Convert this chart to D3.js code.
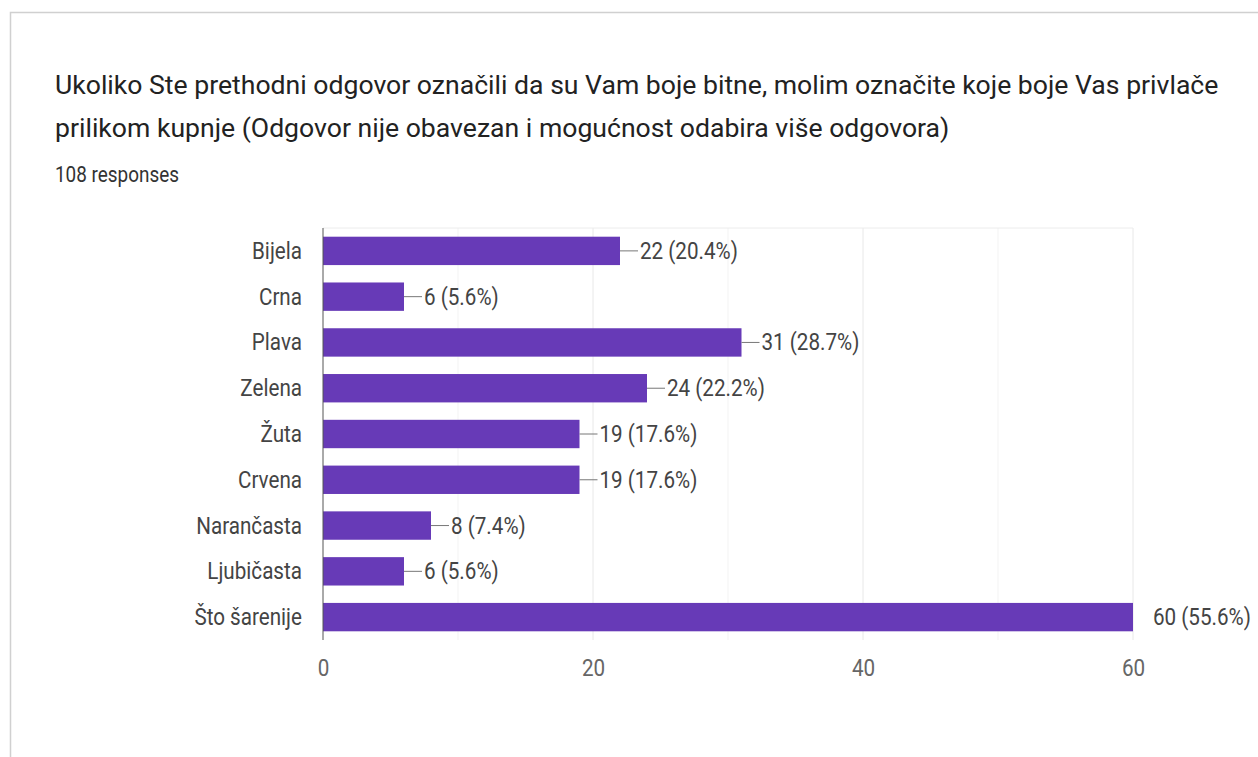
<!DOCTYPE html>
<html><head><meta charset="utf-8">
<script src="https://cdn.jsdelivr.net/npm/d3@7"></script>
<style>
body{margin:0;background:#fff;}
svg{display:block;font-family:Roboto, Arial, sans-serif;}
</style></head>
<body>
<svg id="c" width="1258" height="757"></svg>
<script>
const titleLines = ["Ukoliko Ste prethodni odgovor označili da su Vam boje bitne, molim označite koje boje Vas privlače",
  "prilikom kupnje (Odgovor nije obavezan i mogućnost odabira više odgovora)"];
const subtitle = "108 responses";
const categories = ["Bijela","Crna","Plava","Zelena","Žuta","Crvena","Narančasta","Ljubičasta","Što šarenije"];
const counts = [22,6,31,24,19,19,8,6,60];
const percents = ["20.4%","5.6%","28.7%","22.2%","17.6%","17.6%","7.4%","5.6%","55.6%"];
const majorTicks = [0,20,40,60];
const minorTicks = [10,30,50];

(function(){
const svg = d3.select("#c");
const SX = 0.86; // condensed look of the reference text
function ctext(g, x, y, str, size, anchor, fill, sx){
  return g.append("text")
    .attr("transform",`translate(${x},${y}) scale(${sx==null?SX:sx},1)`)
    .attr("text-anchor",anchor||"start").attr("font-size",size).attr("fill",fill||"#444").text(str);
}
svg.append("path").attr("d","M10.5,757 V12.5 H1258").attr("fill","none").attr("stroke","#d0d0d0").attr("stroke-width",1.5);

const tg = svg.append("g");
titleLines.forEach((t,i)=>ctext(tg,55,94+i*43,t,26.6,"start","#222",1));
ctext(svg,55,182,subtitle,22,"start","#333");

const pL=323, pR=1133, pT=228, pB=640;
const x = d3.scaleLinear().domain([0,60]).range([pL,pR]);
const y = d3.scaleBand().domain(categories).range([pT,pB]).paddingInner(0.38).paddingOuter(0.19);

svg.append("g").selectAll("line").data(minorTicks).join("line")
  .attr("x1",d=>x(d)).attr("x2",d=>x(d)).attr("y1",pT).attr("y2",pB).attr("stroke","#f3f3f3");
svg.append("g").selectAll("line").data(majorTicks.filter(d=>d>0)).join("line")
  .attr("x1",d=>x(d)).attr("x2",d=>x(d)).attr("y1",pT).attr("y2",pB).attr("stroke","#e8e8e8");
svg.append("line").attr("x1",pL).attr("x2",pR).attr("y1",pT).attr("y2",pT).attr("stroke","#ececec");

const data = categories.map((c,i)=>({c,v:counts[i],p:percents[i]}));
svg.append("g").selectAll("rect").data(data).join("rect")
  .attr("x",x(0)).attr("y",d=>y(d.c)).attr("width",d=>x(d.v)-x(0)).attr("height",y.bandwidth())
  .attr("fill","#673ab7");

svg.append("line").attr("x1",pL).attr("x2",pL).attr("y1",pT).attr("y2",pB).attr("stroke","#555").attr("stroke-width",1);

const cg = svg.append("g");
categories.forEach(c=>ctext(cg,302,y(c)+y.bandwidth()/2+8,c,24,"end","#444"));

const xAxis = d3.axisBottom(x).tickValues(majorTicks).tickSize(0).tickPadding(0);
const gx = svg.append("g").attr("transform",`translate(0,${pB})`).call(xAxis);
gx.select(".domain").remove();
gx.selectAll("text").attr("font-size",24).attr("fill","#666").attr("font-family","Roboto, Arial, sans-serif")
  .attr("dy",null).attr("y",0).attr("transform",`translate(0,36) scale(${SX},1)`);

const lbl = svg.append("g");
data.forEach(d=>{
  const xe = x(d.v), cy = y(d.c)+y.bandwidth()/2;
  const xEnd = Math.min(xe+18, pR);
  if (xEnd > xe) {
    lbl.append("line").attr("x1",xe).attr("x2",xEnd).attr("y1",cy).attr("y2",cy).attr("stroke","#777");
  }
  ctext(lbl, xe+20, cy+8, `${d.v} (${d.p})`, 24, "start", "#444");
});
})();
</script>
</body></html>
